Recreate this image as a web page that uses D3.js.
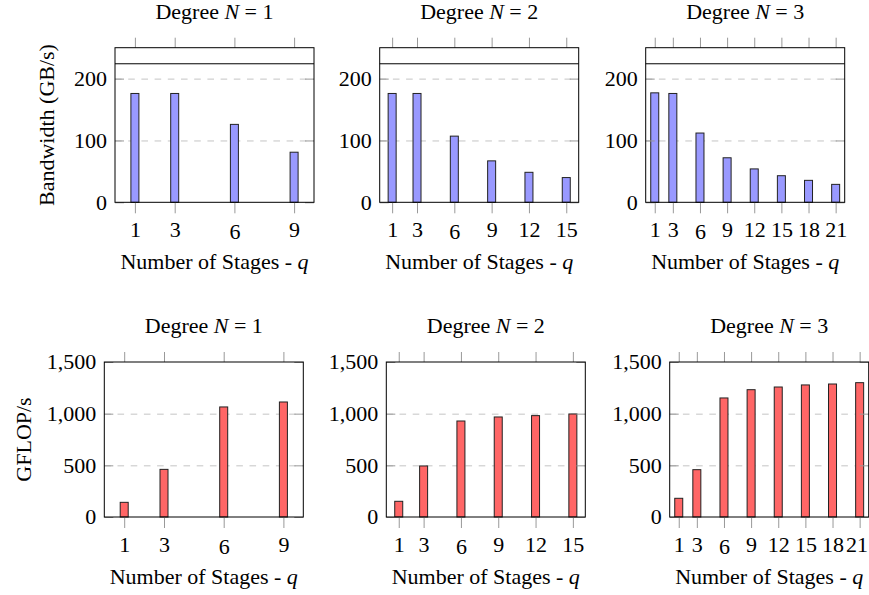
<!DOCTYPE html>
<html>
<head>
<meta charset="utf-8">
<script src="https://cdn.jsdelivr.net/npm/d3@7"></script>
<style>
  body { margin: 0; background: #fff; }
</style>
</head>
<body>
<script>
// data
const degrees = [1, 2, 3];
const stages1 = [1, 3, 6, 9];
const stages2 = [1, 3, 6, 9, 12, 15];
const stages3 = [1, 3, 6, 9, 12, 15, 18, 21];

const bandwidth1 = [176, 176, 126, 81];
const bandwidth2 = [176, 176, 107, 67, 48.5, 40];
const bandwidth3 = [177, 176, 112, 72, 54, 43, 35.5, 29];

const gflops1 = [142, 461, 1065, 1113];
const gflops2 = [152, 494, 929, 968, 981, 997];
const gflops3 = [181, 458, 1152, 1232, 1258, 1278, 1287, 1300];

const peakBandwidth = 224;
const xMax = [10, 16, 22];
const bwTicks = [0, 100, 200];
const flopTicks = [0, 500, 1000, 1500];

const stages = [stages1, stages2, stages3];
const bandwidth = [bandwidth1, bandwidth2, bandwidth3];
const gflops = [gflops1, gflops2, gflops3];

const W = 869, H = 595;
const boxW = 199, barW = 8, fs = 20, wide = 1.1;
const serif = "'Liberation Serif', 'DejaVu Serif', serif";
const tickGray = "#999";

const svg = d3.select("body").append("svg")
  .attr("width", W)
  .attr("height", H)
  .style("font-family", serif);

// the reference font runs a bit wide, so stretch text along its baseline
function serifText(sel) {
  return sel.style("font-family", serif).style("font-size", fs + "px").attr("fill", "#000");
}

function panel(o) {
  const x = d3.scaleLinear().domain([0, o.xMax]).range([o.left, o.left + boxW]);
  const y = d3.scaleLinear().domain([0, o.yMax]).range([o.bottom, o.top]);
  const g = svg.append("g");

  // dashed grid
  g.append("g")
    .attr("transform", `translate(${o.left},0)`)
    .call(d3.axisLeft(y).tickValues(o.yTicks.filter(t => t > 0 && t < o.yMax)).tickSize(-boxW).tickFormat(""))
    .call(s => s.select(".domain").remove())
    .call(s => s.selectAll("line").attr("stroke", "#c4c4c4").attr("stroke-dasharray", "6.6,6.6"));

  // bars
  g.selectAll("rect.bar")
    .data(o.xs.map((q, i) => ({q, v: o.values[i]})))
    .join("rect")
    .attr("class", "bar")
    .attr("x", d => x(d.q) - barW / 2)
    .attr("y", d => y(d.v))
    .attr("width", barW)
    .attr("height", d => y(0) - y(d.v))
    .attr("fill", o.color)
    .attr("stroke", "#222")
    .attr("stroke-width", 1);

  if (o.peak != null) {
    g.append("line")
      .attr("x1", o.left).attr("x2", o.left + boxW)
      .attr("y1", y(o.peak)).attr("y2", y(o.peak))
      .attr("stroke", "#000").attr("stroke-width", 1);
  }

  // y ticks inside, left with labels
  g.append("g")
    .attr("transform", `translate(${o.left},0)`)
    .call(d3.axisLeft(y).tickValues(o.yTicks).tickSize(-9).tickPadding(7.3).tickFormat(d3.format(",")))
    .call(s => s.select(".domain").remove())
    .call(s => s.selectAll("line").attr("stroke", tickGray))
    .call(s => serifText(s.selectAll("text")).attr("dy", "0.34em").attr("transform", `scale(${wide},1)`));

  g.append("g")
    .attr("transform", `translate(${o.left + boxW},0)`)
    .call(d3.axisRight(y).tickValues(o.yTicks).tickSize(-9).tickFormat(""))
    .call(s => s.select(".domain").remove())
    .call(s => s.selectAll("line").attr("stroke", tickGray));

  // x ticks outside, top and bottom
  g.append("g")
    .attr("transform", `translate(0,${o.bottom})`)
    .call(d3.axisBottom(x).tickValues(o.xs).tickSize(11))
    .call(s => s.select(".domain").remove())
    .call(s => s.selectAll("line").attr("stroke", tickGray))
    .call(s => serifText(s.selectAll("text")).attr("dy", null)
      .attr("y", d => d === 6 ? 37 : 35).attr("transform", `scale(${wide},1)`))
    .call(s => s.selectAll("text").each(function() {
      // keep the last label inside the page
      const r = this.getBoundingClientRect().right;
      if (r > W - 1) d3.select(this).attr("x", -(r - W + 1) / wide);
    }));

  g.append("g")
    .attr("transform", `translate(0,${o.top})`)
    .call(d3.axisTop(x).tickValues(o.xs).tickSize(10).tickFormat(""))
    .call(s => s.select(".domain").remove())
    .call(s => s.selectAll("line").attr("stroke", tickGray));

  // frame
  g.append("rect")
    .attr("x", o.left).attr("y", o.top)
    .attr("width", boxW).attr("height", o.bottom - o.top)
    .attr("fill", "none").attr("stroke", "#000").attr("stroke-width", 1);

  // title
  const t = serifText(g.append("text"))
    .attr("transform", `translate(${o.left + boxW / 2},${o.top - 29.2}) scale(${wide},1)`)
    .attr("text-anchor", "middle");
  t.append("tspan").text("Degree ");
  t.append("tspan").attr("font-style", "italic").text("N");
  t.append("tspan").text(" = " + o.degree);

  // x label
  const xl = serifText(g.append("text"))
    .attr("transform", `translate(${o.left + boxW / 2},${o.bottom + 67}) scale(${wide},1)`)
    .attr("text-anchor", "middle");
  xl.append("tspan").text("Number of Stages - ");
  xl.append("tspan").attr("font-style", "italic").text("q");

  if (o.yLabel) {
    serifText(g.append("text"))
      .attr("transform", `translate(${o.yLabelX},${(o.top + o.bottom) / 2}) rotate(-90) scale(${wide},1)`)
      .attr("text-anchor", "middle")
      .text(o.yLabel);
  }
}

const topLefts = [115, 379.7, 645.7];
const botLefts = [104.3, 386.3, 669.7];

degrees.forEach((n, i) => {
  panel({
    degree: n, xs: stages[i], values: bandwidth[i], xMax: xMax[i],
    left: topLefts[i], top: 47.7, bottom: 202.3, yMax: 250, yTicks: bwTicks,
    color: "#9999ff", peak: peakBandwidth,
    yLabel: i === 0 ? "Bandwidth (GB/s)" : null, yLabelX: 54
  });
  panel({
    degree: n, xs: stages[i], values: gflops[i], xMax: xMax[i],
    left: botLefts[i], top: 362, bottom: 517, yMax: 1500, yTicks: flopTicks,
    color: "#ff6666", peak: null,
    yLabel: i === 0 ? "GFLOP/s" : null, yLabelX: 30.5
  });
});
</script>
</body>
</html>
